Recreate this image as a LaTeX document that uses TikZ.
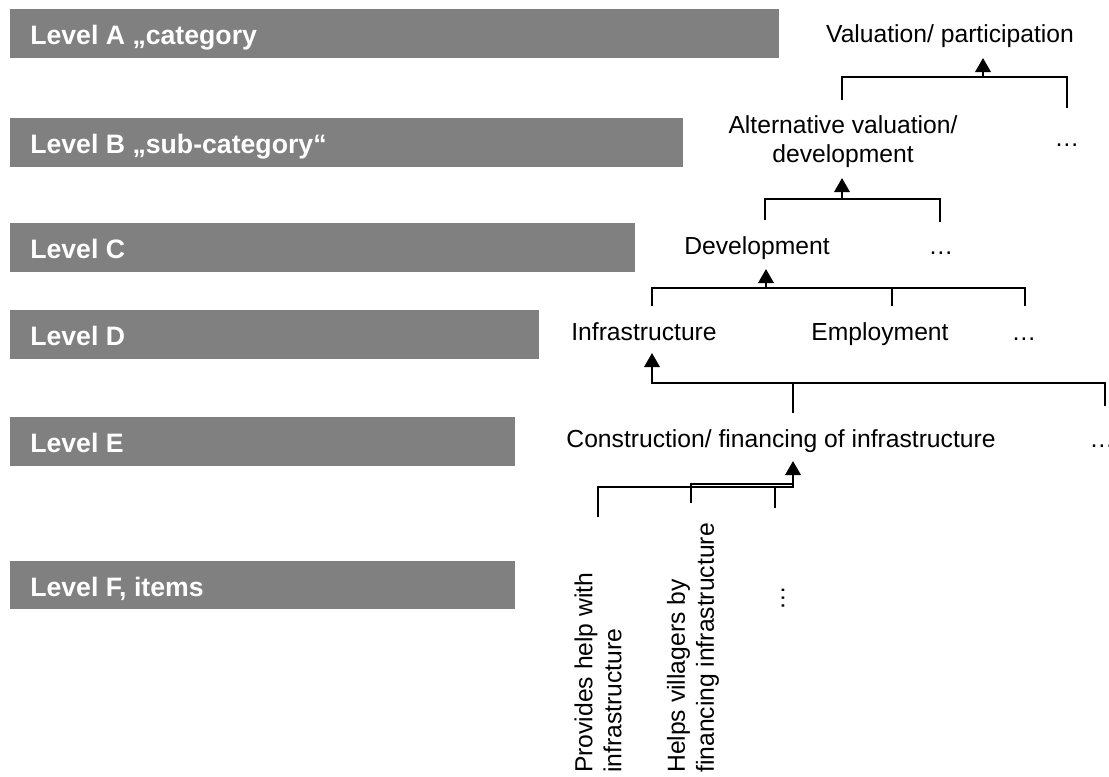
\documentclass[tikz,border=0pt]{standalone}
\usepackage{fontspec}
\setmainfont{Liberation Sans}
\usetikzlibrary{arrows.meta}
\definecolor{bargray}{HTML}{808080}
\tikzset{
  levelbar/.style={fill=bargray, draw=none},
  levellabel/.style={anchor=base west, inner sep=0pt, text=white,
    font=\fontsize{20pt}{24pt}\selectfont\bfseries},
  termtext/.style={anchor=base, inner sep=0pt,
    font=\fontsize{18.5pt}{21.75pt}\selectfont},
  itemtext/.style={termtext, rotate=90, anchor=west, align=left},
  link/.style={line width=1.9pt, line join=miter},
  linkup/.style={link, -{Triangle[width=11.5pt,length=10.5pt]}},
}
\begin{document}
\begin{tikzpicture}[x=0.75pt,y=-0.75pt]
\useasboundingbox (0,0) rectangle (1109,776);
\clip (0,0) rectangle (1109,776);

% grey level bars with their captions
\fill[levelbar] (10,9)   rectangle (779,58);
\fill[levelbar] (10,118) rectangle (683,167);
\fill[levelbar] (10,223) rectangle (635,272);
\fill[levelbar] (10,310) rectangle (539,359);
\fill[levelbar] (10,417) rectangle (515,466);
\fill[levelbar] (10,561) rectangle (515,609);
\node[levellabel] (lvA) at (30,44)  {Level A „category};
\node[levellabel] (lvB) at (30,153) {Level B „sub-category“};
\node[levellabel] (lvC) at (30,258) {Level C};
\node[levellabel] (lvD) at (30,345) {Level D};
\node[levellabel] (lvE) at (30,452) {Level E};
\node[levellabel] (lvF) at (30,596) {Level F, items};

% terms of the hierarchy (a two-line node sits on its last baseline)
\node[termtext] (val) at (950,42) {Valuation/ participation};
\node[termtext, align=center] (alt) at (843,162) {Alternative valuation/\\development};
\node[termtext] (more-b) at (1067,146) {…};
\node[termtext] (dev) at (757,254) {Development};
\node[termtext] (more-c) at (941,254) {…};
\node[termtext] (infra) at (644,340) {Infrastructure};
\node[termtext] (empl) at (880,340) {Employment};
\node[termtext] (more-d) at (1024,340) {…};
\node[termtext] (constr) at (781,447) {Construction/ financing of infrastructure};
\node[termtext] (more-e) at (1102,447) {…};
\node[itemtext] (prov) at (598,773) {Provides help with\\infrastructure};
\node[itemtext] (helps) at (693,773) {Helps villagers by\\financing infrastructure};
\node[termtext, rotate=90, anchor=center] (more-f) at (783,598) {…};

% bracket B -> A
\coordinate (a-l) at (842,100);
\coordinate (a-r) at (1067,108);
\coordinate (a-j) at (983,77);
\coordinate (a-t) at (983,58);
\draw[link] (a-l) |- (a-j) -| (a-r);
\draw[linkup] (a-j) -- (a-t);

% bracket C -> B
\coordinate (b-l) at (765,220);
\coordinate (b-r) at (940,222);
\coordinate (b-j) at (842,199);
\coordinate (b-t) at (842,178);
\draw[link] (b-l) |- (b-j) -| (b-r);
\draw[linkup] (b-j) -- (b-t);

% bracket D -> C
\coordinate (c-l) at (652,306);
\coordinate (c-m) at (892,306);
\coordinate (c-r) at (1025,306);
\coordinate (c-j) at (766,288);
\coordinate (c-t) at (766,269);
\draw[link] (c-l) |- (c-j) -| (c-r);
\draw[link] (c-m) -- (c-m |- c-j);
\draw[linkup] (c-j) -- (c-t);

% bracket E -> D
\coordinate (d-j) at (652,383);
\coordinate (d-t) at (652,353);
\coordinate (d-m) at (793,413);
\coordinate (d-r) at (1105,406);
\draw[linkup] (d-r) |- (d-j) -- (d-t);
\draw[link] (d-m) -- (d-m |- d-j);

% bracket F -> E
\coordinate (e-a) at (598,517);
\coordinate (e-b) at (691,503);
\coordinate (e-c) at (775,508);
\coordinate (e-j) at (793,487);
\coordinate (e-k) at (793,484);
\coordinate (e-t) at (793,461);
\draw[linkup] (e-a) |- (e-j) -- (e-t);
\draw[link] (e-b) |- (e-k);
\draw[link] (e-c) -- (e-c |- e-j);
\end{tikzpicture}
\end{document}
